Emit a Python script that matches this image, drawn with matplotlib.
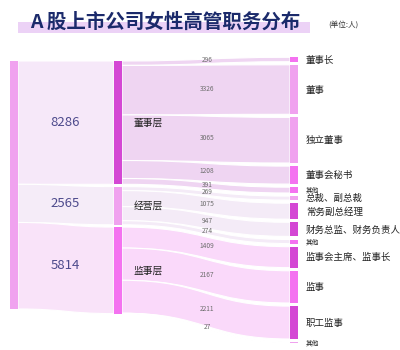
import matplotlib
matplotlib.use("Agg")
import matplotlib.pyplot as plt
from matplotlib.path import Path
from matplotlib.patches import PathPatch, Rectangle

plt.rcParams['font.family'] = ['Noto Sans CJK SC', 'DejaVu Sans']

# ---- data ----
layers = ['董事层', '经营层', '监事层']
layer_values = [8286, 2565, 5814]
roles = ['董事长', '董事', '独立董事', '董事会秘书', '其他',
         '总裁、副总裁', '常务副总经理', '财务总监、财务负责人', '其他',
         '监事会主席、监事长', '监事', '职工监事', '其他']
role_values = [296, 3326, 3065, 1208, 391, 269, 1075, 947, 274, 1409, 2167, 2211, 27]
role_layer = [0, 0, 0, 0, 0, 1, 1, 1, 1, 2, 2, 2, 2]
title = 'A 股上市公司女性高管职务分布'
unit = '(单位:人)'

# ---- style ----
DARK, MID, LIGHT = '#d447d4', '#f472f0', '#f0a2ef'
layer_colors = [DARK, LIGHT, MID]
role_colors = [MID, LIGHT, LIGHT, MID, MID, LIGHT, DARK, DARK, MID, DARK, MID, DARK, LIGHT]
flow1_colors = ['#f6e8f9', '#f5ecf8', '#f9e3f9']
flow2_colors = ['#efd5f2', '#f4ebf7', '#fad9fa']
small_roles = {'其他'}

fig = plt.figure(figsize=(4, 3.5), dpi=100)
ax = fig.add_axes([0, 0, 1, 1])
ax.set_xlim(0, 400)
ax.set_ylim(350, 0)
ax.axis('off')

total = sum(layer_values)
k = 248.0 / total
X0, X1, X2 = 10, 114, 290
W = 8


def layout(vals, start, gap):
    pos = []
    y = start
    for v in vals:
        h = v * k
        pos.append((y, y + h))
        y += h + gap
    return pos


left_pos = layout(layer_values, 61, 0)
mid_pos = layout(layer_values, 61, 2.3)
right_pos = layout(role_values, 57.3, 3.1)


def flow(xa, ya0, ya1, xb, yb0, yb1, color):
    xm = (xa + xb) / 2
    verts = [(xa, ya0), (xm, ya0), (xm, yb0), (xb, yb0),
             (xb, yb1), (xm, yb1), (xm, ya1), (xa, ya1), (xa, ya0)]
    codes = [Path.MOVETO, Path.CURVE4, Path.CURVE4, Path.CURVE4,
             Path.LINETO, Path.CURVE4, Path.CURVE4, Path.CURVE4, Path.CLOSEPOLY]
    ax.add_patch(PathPatch(Path(verts, codes), facecolor=color,
                           edgecolor='white', lw=0.8, zorder=1))


# left -> middle flows
for i in range(len(layers)):
    a0, a1 = left_pos[i]
    b0, b1 = mid_pos[i]
    flow(X0 + W, a0, a1, X1, b0, b1, flow1_colors[i])
    ax.text(65, (a0 + a1) / 2, str(layer_values[i]), ha='center', va='center',
            fontsize=9.5, color='#4d4a8c', zorder=3)

# middle -> right flows
offsets = [m[0] for m in mid_pos]
for j, v in enumerate(role_values):
    li = role_layer[j]
    s0 = offsets[li]
    s1 = s0 + v * k
    offsets[li] = s1
    t0, t1 = right_pos[j]
    flow(X1 + W, s0, s1, X2, t0, t1, flow2_colors[li])
    ymid = ((s0 + s1) / 2 + (t0 + t1) / 2) / 2
    ax.text(207, ymid - 1, str(v), ha='center', va='center', fontsize=4.8,
            color='#6e6e6e', zorder=3)

# nodes
ax.add_patch(Rectangle((X0, left_pos[0][0]), W, left_pos[-1][1] - left_pos[0][0],
                       facecolor=LIGHT, edgecolor='none', zorder=2))
for i, (a0, a1) in enumerate(mid_pos):
    ax.add_patch(Rectangle((X1, a0), W, a1 - a0, facecolor=layer_colors[i],
                           edgecolor='none', zorder=2))
    ax.text(134, (a0 + a1) / 2, layers[i], ha='left', va='center', fontsize=7,
            color='#222222', zorder=3)
for j, (a0, a1) in enumerate(right_pos):
    h = max(a1 - a0, 0.8)
    ax.add_patch(Rectangle((X2, a0), W, h, facecolor=role_colors[j],
                           edgecolor='none', zorder=2))
    if roles[j] in small_roles:
        ax.text(306, (a0 + a1) / 2 + 0.8, roles[j], ha='left', va='center', fontsize=4.8,
                color='#222222', zorder=3)
    else:
        ax.text(306, (a0 + a1) / 2 + 0.5, roles[j], ha='left', va='center', fontsize=6.8,
                color='#222222', zorder=3)

# title
ax.add_patch(Rectangle((18, 22), 292, 11, facecolor='#ecd2f6', edgecolor='none', zorder=1))
ax.text(30, 22.5, title, ha='left', va='center', fontsize=14, fontweight='bold',
        color='#1b2a6b', zorder=3)
ax.text(328, 25, unit, ha='left', va='center', fontsize=5.5, color='#333333', zorder=3)

fig.savefig('out.png', dpi=100)
